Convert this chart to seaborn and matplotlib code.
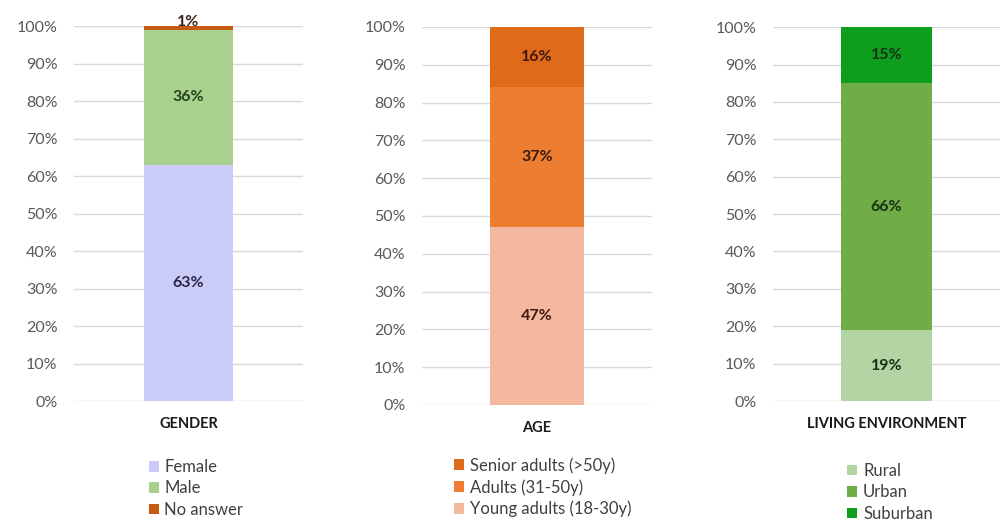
import matplotlib
matplotlib.use("Agg")
import matplotlib.pyplot as plt
import seaborn as sns
import numpy as np
from matplotlib.patches import Patch
from matplotlib.ticker import FuncFormatter

sns.set_theme(style="white")
plt.rcParams['font.family'] = ['Lato', 'DejaVu Sans']

# ---- data ----
gender_category = "GENDER"
gender_labels = ["Female", "Male", "No answer"]
gender_values = [63, 36, 1]
gender_colors = ["#CBCBF7", "#A9D18E", "#C55A11"]
gender_text_colors = ["#26264A", "#24401A", "#3A2418"]

age_category = "AGE"
age_labels = ["Young adults (18-30y)", "Adults (31-50y)", "Senior adults (>50y)"]
age_values = [47, 37, 16]
age_colors = ["#F4B8A0", "#ED7D31", "#DF6A1A"]
age_text_colors = ["#3E1A0E", "#3E1A0E", "#3E1A0E"]

living_category = "LIVING ENVIRONMENT"
living_labels = ["Rural", "Urban", "Suburban"]
living_values = [19, 66, 15]
living_colors = ["#B3D4A3", "#70AD47", "#0E9E1E"]
living_text_colors = ["#143214", "#143214", "#143214"]

y_ticks = list(range(0, 101, 10))

panels = [
    dict(cat=gender_category, labels=gender_labels, values=gender_values,
         colors=gender_colors, tcolors=gender_text_colors,
         rect=[0.074, 0.2288, 0.229, 0.7212], width=0.786,
         legend_order=[0, 1, 2], leg_xy=(0.196, 0.117)),
    dict(cat=age_category, labels=age_labels, values=age_values,
         colors=age_colors, tcolors=age_text_colors,
         rect=[0.422, 0.2212, 0.230, 0.727], width=0.81,
         legend_order=[2, 1, 0], leg_xy=(0.543, 0.121)),
    dict(cat=living_category, labels=living_labels, values=living_values,
         colors=living_colors, tcolors=living_text_colors,
         rect=[0.773, 0.2288, 0.227, 0.719], width=0.81,
         legend_order=[0, 1, 2], leg_xy=(0.890, 0.1095)),
]

fig = plt.figure(figsize=(10, 5.2), dpi=100)

for p in panels:
    ax = fig.add_axes(p["rect"])
    vals = np.array(p["values"], dtype=float)
    cum = np.cumsum(vals)
    for i in range(len(vals) - 1, -1, -1):
        sns.barplot(x=[p["cat"]], y=[cum[i]], color=p["colors"][i],
                    saturation=1, width=p["width"], ax=ax, linewidth=0)
    ax.set_xlim(-1, 1)
    ax.set_ylim(0, 100)
    ax.set_yticks(y_ticks)
    ax.yaxis.set_major_formatter(FuncFormatter(lambda v, _: f"{int(v)}%"))
    ax.yaxis.grid(True, color="#D9D9D9", lw=1)
    ax.set_axisbelow(True)
    for s in ax.spines.values():
        s.set_visible(False)
    ax.tick_params(axis='y', length=0, pad=12, labelsize=11.5, labelcolor="#595959")
    ax.tick_params(axis='x', length=0, pad=11.5, labelsize=10.5, labelcolor="#1A1A1A")
    for t in ax.get_xticklabels():
        t.set_fontweight('bold')
    ax.set_xlabel("")
    ax.set_ylabel("")
    # data labels
    bottoms = cum - vals
    for i, v in enumerate(vals):
        if v >= 5:
            ax.text(0, bottoms[i] + v / 2, f"{int(v)}%", ha='center', va='center',
                    fontsize=11.5, fontweight='bold', color=p["tcolors"][i])
        else:
            ax.annotate(f"{int(v)}%", xy=(0, cum[i]), xytext=(0, 3),
                        textcoords='offset points', ha='center', va='center',
                        fontsize=11.5, fontweight='bold', color=p["tcolors"][i],
                        annotation_clip=False)
    handles = [Patch(facecolor=p["colors"][k], edgecolor='none', label=p["labels"][k])
               for k in p["legend_order"]]
    leg = ax.legend(handles=handles, loc='upper center', bbox_to_anchor=p["leg_xy"],
                    bbox_transform=fig.transFigure, frameon=False, fontsize=12,
                    handlelength=0.6, handleheight=0.6, handletextpad=0.35,
                    labelspacing=0.32, borderpad=0, borderaxespad=0)
    for t in leg.get_texts():
        t.set_color("#404040")

fig.savefig("out.png", dpi=100)
